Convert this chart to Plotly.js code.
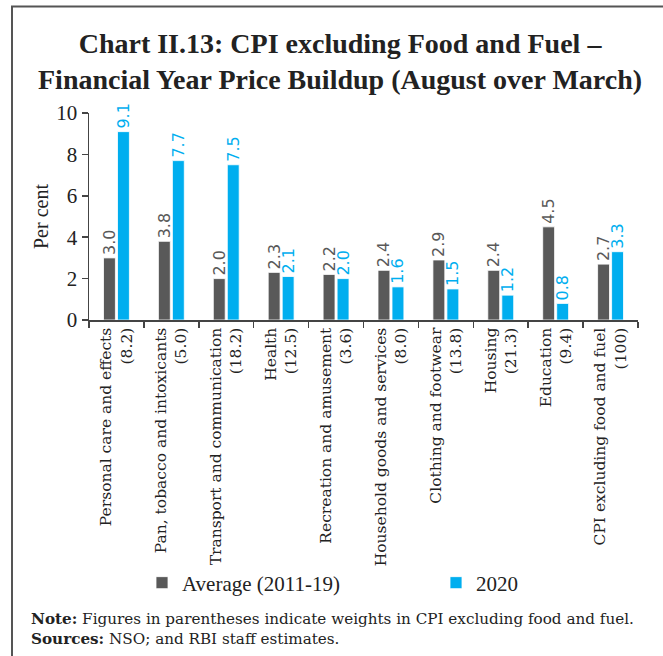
<!DOCTYPE html>
<html>
<head>
<meta charset="utf-8">
<script src="https://cdn.plot.ly/plotly-3.0.1.min.js"></script>
<style>
html,body{margin:0;padding:0;background:#fff;}
#chart{width:663px;height:656px;}
</style>
</head>
<body>
<div id="chart"></div>
<script>
const categories = [
  "Personal care and effects<br>(8.2)",
  "Pan, tobacco and intoxicants<br>(5.0)",
  "Transport and communication<br>(18.2)",
  "Health<br>(12.5)",
  "Recreation and amusement<br>(3.6)",
  "Household goods and services<br>(8.0)",
  "Clothing and footwear<br>(13.8)",
  "Housing<br>(21.3)",
  "Education<br>(9.4)",
  "CPI excluding food and fuel<br>(100)"
];
const average2011_19 = [3.0, 3.8, 2.0, 2.3, 2.2, 2.4, 2.9, 2.4, 4.5, 2.7];
const y2020 = [9.1, 7.7, 7.5, 2.1, 2.0, 1.6, 1.5, 1.2, 0.8, 3.3];
const seriesNames = ["Average (2011-19)", "2020"];

const grey = "#595959", blue = "#00AEEF";
const serif = "Liberation Serif, serif";
const wideSerif = "DejaVu Serif, serif";
const sans = "DejaVu Sans, sans-serif";

function barTrace(name, vals, color, legendId) {
  return {
    type: "bar", name: name, x: categories, y: vals, legend: legendId,
    marker: {color: color, line: {color: "#ffffff", width: 0.8}},
    text: vals.map(v => v.toFixed(1)),
    textposition: "outside", textangle: -90, constraintext: "none",
    cliponaxis: false,
    textfont: {family: sans, size: 16, color: color},
    hoverinfo: "x+y"
  };
}

const data = [
  barTrace(seriesNames[0], average2011_19, grey, "legend"),
  barTrace(seriesNames[1], y2020, blue, "legend2")
];

const L = 89, R = 638, T = 113, B = 320;
const px = x => (x - L) / (R - L);
const py = y => (B - y) / (B - T);

const legendBase = {
  orientation: "h", xanchor: "left", yanchor: "middle", y: py(583),
  font: {family: serif, size: 21, color: "#222"},
  itemwidth: 30, bgcolor: "rgba(0,0,0,0)"
};

const layout = {
  width: 663, height: 656,
  margin: {l: L, r: 663 - R, t: T, b: 656 - B},
  paper_bgcolor: "#fff", plot_bgcolor: "#fff",
  barmode: "group", bargap: 0.49, bargroupgap: 0.15,
  showlegend: true,
  xaxis: {
    type: "category", tickangle: -90, tickson: "boundaries",
    ticks: "outside", ticklen: 6, tickcolor: "#444", tickwidth: 1.5,
    showline: true, linecolor: "#444", linewidth: 1.5,
    showgrid: false, zeroline: false,
    tickfont: {family: wideSerif, size: 15.5, color: "#222"}
  },
  yaxis: {
    range: [0, 10], dtick: 2, ticks: "outside", ticklen: 6, tickcolor: "#444", tickwidth: 1.5,
    showline: true, linecolor: "#444", linewidth: 1.5,
    showgrid: false, zeroline: false,
    tickfont: {family: serif, size: 21, color: "#222"},
    title: {text: "Per cent", font: {family: serif, size: 20, color: "#222"}, standoff: 2}
  },
  legend: Object.assign({}, legendBase, {x: px(142)}),
  legend2: Object.assign({}, legendBase, {x: px(436)}),
  annotations: [
    {xref: "paper", yref: "paper", x: px(340), y: py(61), xanchor: "center", yanchor: "middle",
     text: "<b>Chart II.13: CPI excluding Food and Fuel –<br>Financial Year Price Buildup (August over March)</b>",
     showarrow: false, font: {family: serif, size: 28, color: "#222"}},
    {xref: "paper", yref: "paper", x: px(29), y: py(629), xanchor: "left", yanchor: "middle", align: "left",
     text: "<b>Note:</b> Figures in parentheses indicate weights in CPI excluding food and fuel.<br><b>Sources:</b> NSO; and RBI staff estimates.",
     showarrow: false, font: {family: wideSerif, size: 15.2, color: "#222"}}
  ],
  shapes: [
    {type: "line", xref: "paper", yref: "paper", x0: px(12), x1: px(12), y0: py(6), y1: py(660),
     line: {color: "#555", width: 2}},
    {type: "line", xref: "paper", yref: "paper", x0: px(11), x1: px(670), y0: py(6.5), y1: py(6.5),
     line: {color: "#555", width: 2}}
  ]
};

Plotly.newPlot("chart", data, layout, {displayModeBar: false, staticPlot: true});
</script>
</body>
</html>
